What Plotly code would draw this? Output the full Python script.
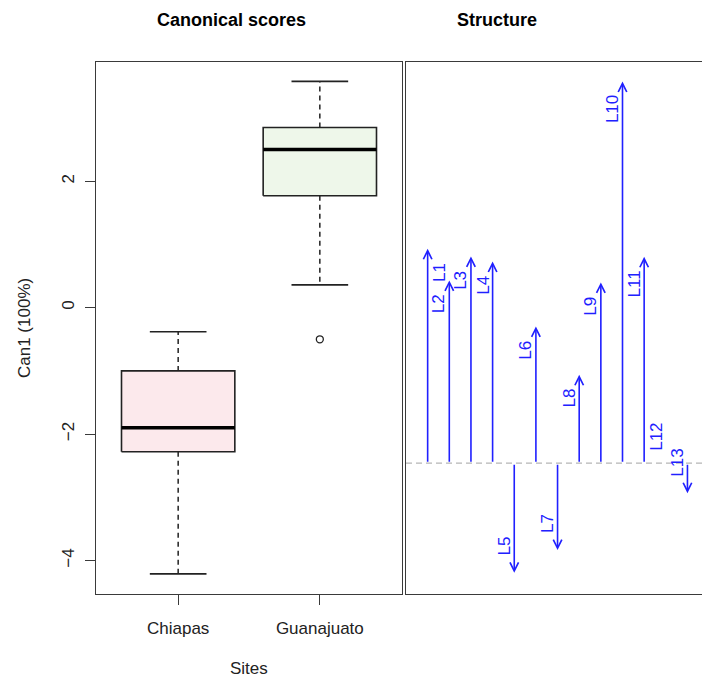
import plotly.graph_objects as go

# ---------------- data ----------------
sites = ["Chiapas", "Guanajuato"]
box_lower = [-4.21, 0.36]      # lower whisker ends
box_q1 = [-2.28, 1.77]
box_median = [-1.90, 2.50]
box_q3 = [-1.00, 2.85]
box_upper = [-0.38, 3.58]      # upper whisker ends
outlier_site = ["Guanajuato"]
outlier_value = [-0.50]
box_fill = ["#FCE9EC", "#EEF7EA"]

struct_labels = ["L1", "L2", "L3", "L4", "L5", "L6", "L7", "L8", "L9", "L10", "L11", "L12", "L13"]
struct_values = [0.536, 0.457, 0.517, 0.504, -0.274, 0.342, -0.217, 0.221, 0.452, 0.954, 0.516, -0.012, -0.075]

# ---------------- layout helpers ----------------
W, H = 702, 679
PT, PB = 62, 594          # plot top / bottom (px)
LX0, LX1 = 96, 402        # left panel
RX0 = 406                 # right panel left edge

def px_x(p):
    return p / W

def px_y(p):
    return 1 - (p - PT) / (PB - PT)

FONT = "Liberation Sans, Arial, sans-serif"
INK = "#222222"
FRAME = "#3a3a3a"
BLUE = "#2020FF"

fig = go.Figure()

# ---------------- box plots (left panel) ----------------
half_box = 0.4
half_cap = 0.2
for i, s in enumerate(sites):
    xc = i + 1
    fig.add_trace(go.Scatter(
        x=[xc - half_box, xc + half_box, xc + half_box, xc - half_box, xc - half_box],
        y=[box_q1[i], box_q1[i], box_q3[i], box_q3[i], box_q1[i]],
        mode="lines", fill="toself", fillcolor=box_fill[i],
        line=dict(color=INK, width=1.6), hoverinfo="skip", showlegend=False,
        xaxis="x", yaxis="y"))
    fig.add_trace(go.Scatter(
        x=[xc - half_box, xc + half_box], y=[box_median[i], box_median[i]],
        mode="lines", line=dict(color="black", width=3.5), showlegend=False,
        xaxis="x", yaxis="y"))
    fig.add_trace(go.Scatter(
        x=[xc, xc, None, xc, xc],
        y=[box_q3[i], box_upper[i], None, box_q1[i], box_lower[i]],
        mode="lines", line=dict(color=INK, width=1.5, dash="5px,4px"), showlegend=False,
        xaxis="x", yaxis="y"))
    fig.add_trace(go.Scatter(
        x=[xc - half_cap, xc + half_cap, None, xc - half_cap, xc + half_cap],
        y=[box_upper[i], box_upper[i], None, box_lower[i], box_lower[i]],
        mode="lines", line=dict(color=INK, width=1.6), showlegend=False,
        xaxis="x", yaxis="y"))

fig.add_trace(go.Scatter(
    x=[sites.index(s) + 1 for s in outlier_site], y=outlier_value,
    mode="markers", marker=dict(symbol="circle-open", size=7, color=INK, line=dict(width=1.3)),
    showlegend=False, xaxis="x", yaxis="y"))

# ---------------- structure (right panel) ----------------
n = len(struct_labels)
xs = list(range(1, n + 1))
fig.add_trace(go.Scatter(
    x=[0, n + 1], y=[0, 0], mode="lines",
    line=dict(color="#b5b5b5", width=1.3, dash="6px,4px"),
    showlegend=False, xaxis="x2", yaxis="y2"))

annotations = []
for xv, v, lab in zip(xs, struct_values, struct_labels):
    annotations.append(dict(
        x=xv, y=v, ax=xv, ay=0, xref="x2", yref="y2", axref="x2", ayref="y2",
        text="", showarrow=True, arrowhead=5, arrowsize=1.05, arrowwidth=1.6,
        arrowcolor=BLUE, standoff=0))
    up = v >= 0
    xshift = 12 if lab == "L1" else -10
    annotations.append(dict(
        x=xv, y=v, xref="x2", yref="y2", text=lab, showarrow=False,
        textangle=-90, xanchor="center",
        yanchor="top" if up else "bottom",
        yshift=-12 if up else 15, xshift=xshift,
        font=dict(family=FONT, size=17, color=BLUE)))

annotations += [
    dict(x=px_x(232), y=px_y(20), xref="paper", yref="paper", text="<b>Canonical scores</b>",
         showarrow=False, font=dict(family=FONT, size=18, color="black"),
         xanchor="center", yanchor="middle"),
    dict(x=px_x(497), y=px_y(20), xref="paper", yref="paper", text="<b>Structure</b>",
         showarrow=False, font=dict(family=FONT, size=18, color="black"),
         xanchor="center", yanchor="middle"),
    dict(x=px_x(249), y=px_y(668), xref="paper", yref="paper", text="Sites",
         showarrow=False, font=dict(family=FONT, size=17, color=INK),
         xanchor="center", yanchor="middle"),
    dict(x=px_x(24), y=px_y(328), xref="paper", yref="paper", text="Can1 (100%)",
         showarrow=False, textangle=-90, font=dict(family=FONT, size=17, color=INK),
         xanchor="center", yanchor="middle"),
]

fig.update_layout(
    template="none",
    width=W, height=H,
    margin=dict(l=0, r=0, t=PT, b=H - PB, pad=0),
    paper_bgcolor="white", plot_bgcolor="white",
    showlegend=False,
    font=dict(family=FONT, size=17, color=INK),
    xaxis=dict(domain=[px_x(LX0), px_x(LX1)], range=[0.42, 2.58],
               tickmode="array", tickvals=[1, 2], ticktext=sites,
               ticks="outside", ticklen=10, tickwidth=1.4, tickcolor=FRAME,
               showline=True, mirror=True, linecolor=FRAME, linewidth=1.4,
               showgrid=False, zeroline=False, automargin=False,
               ticklabelstandoff=8, tickfont=dict(size=17, color=INK)),
    yaxis=dict(domain=[0, 1], range=[-4.529, 3.886],
               tickmode="array", tickvals=[-4, -2, 0, 2],
               ticks="outside", ticklen=10, tickwidth=1.4, tickcolor=FRAME,
               tickangle=-90, showline=True, mirror=True, linecolor=FRAME, linewidth=1.4,
               showgrid=False, zeroline=False, automargin=False,
               ticklabelstandoff=4, tickfont=dict(size=17, color=INK)),
    xaxis2=dict(domain=[px_x(RX0), 1], range=[0, (W - RX0) / 21.65],
                showticklabels=False, ticks="", showgrid=False, zeroline=False,
                showline=True, mirror=True, linecolor=FRAME, linewidth=1.4,
                anchor="y2", automargin=False),
    yaxis2=dict(domain=[0, 1], range=[-0.327, 1.003], anchor="x2",
                showticklabels=False, ticks="", showgrid=False, zeroline=False,
                showline=True, mirror=False, linecolor=FRAME, linewidth=1.4,
                automargin=False),
    annotations=annotations,
)

fig.write_html("out.html", config={"displayModeBar": False},
               post_script="document.body.style.margin='0';document.body.style.overflow='hidden';")
